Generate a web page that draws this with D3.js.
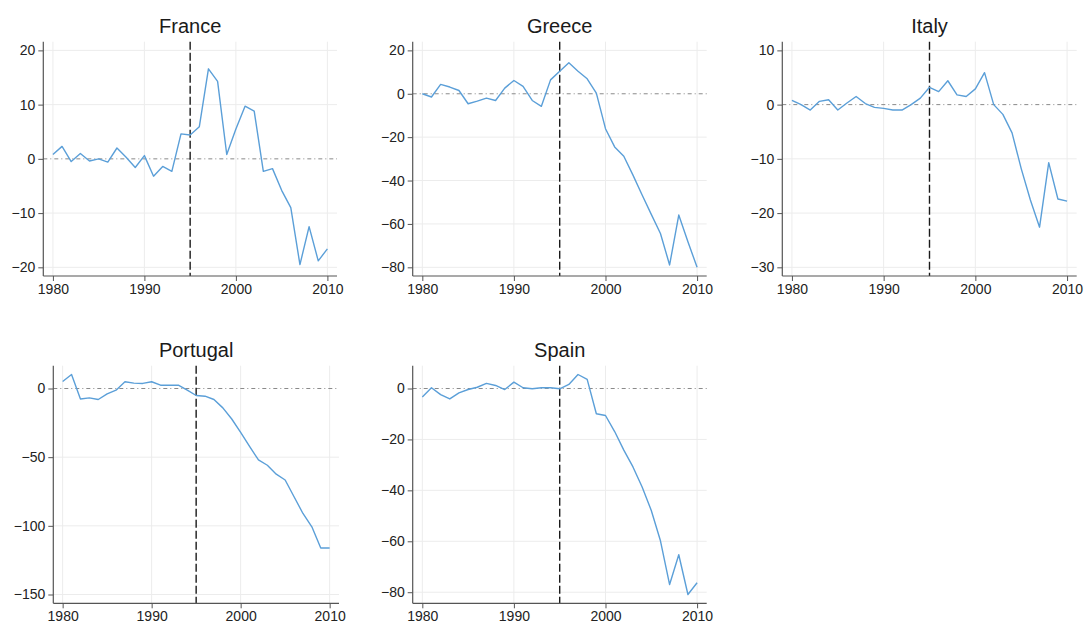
<!DOCTYPE html>
<html>
<head>
<meta charset="utf-8">
<script src="https://cdn.jsdelivr.net/npm/d3@7"></script>
<style>
  html, body { margin: 0; padding: 0; background: #ffffff; }
  svg { display: block; font-family: "Liberation Sans", Arial, sans-serif; }
</style>
</head>
<body>
<svg id="chart" width="1085" height="625"></svg>
<script>
// Years shared by every country panel
const years = d3.range(1980, 2011);
const xTicks = [1980, 1990, 2000, 2010];
const breakYear = 1995;

// Gap series, one per country
const france = [0.8, 2.3, -0.5, 1.0, -0.4, 0.0, -0.6, 2.0, 0.3, -1.6, 0.6, -3.2, -1.4, -2.3, 4.6, 4.4,
  5.9, 16.6, 14.3, 0.8, 5.5, 9.7, 8.8, -2.3, -1.8, -5.8, -9.0, -19.5, -12.5, -18.8, -16.6];
const greece = [0.0, -1.5, 4.3, 3.1, 1.5, -4.6, -3.4, -2.0, -3.1, 2.6, 6.1, 3.4, -3.1, -5.8, 6.4, 10.4,
  14.3, 10.4, 6.9, 0.3, -16.1, -24.5, -28.8, -37.5, -46.7, -55.6, -64.4, -78.9, -55.9, -68.2, -80.0];
const italy = [0.8, 0.0, -1.0, 0.6, 0.9, -1.0, 0.3, 1.5, 0.2, -0.5, -0.7, -1.0, -1.0, 0.0, 1.2, 3.2,
  2.4, 4.4, 1.8, 1.5, 2.9, 5.9, 0.0, -1.8, -5.2, -11.8, -17.6, -22.6, -10.7, -17.4, -17.8];
const portugal = [5.1, 10.2, -7.6, -6.8, -8.0, -3.9, -1.2, 4.9, 3.9, 3.7, 4.9, 2.4, 2.4, 2.4, -1.2, -5.1,
  -5.6, -8.0, -14.1, -22.2, -32.0, -42.2, -52.0, -55.9, -62.4, -66.6, -78.8, -91.0, -100.7, -116.1, -116.1];
const spain = [-3.3, 0.3, -2.4, -4.1, -1.7, -0.4, 0.5, 2.0, 1.2, -0.4, 2.5, 0.3, -0.1, 0.3, 0.3, -0.1,
  1.6, 5.5, 3.6, -9.9, -10.6, -16.9, -24.2, -30.8, -38.7, -47.9, -59.8, -77.0, -65.3, -80.9, -76.3];

// Y-axis tick labels per panel
const franceTicks = [-20, -10, 0, 10, 20];
const greeceTicks = [-80, -60, -40, -20, 0, 20];
const italyTicks = [-30, -20, -10, 0, 10];
const portugalTicks = [-150, -100, -50, 0];
const spainTicks = [-80, -60, -40, -20, 0];

const countries = ["France", "Greece", "Italy", "Portugal", "Spain"];
const seriesList = [france, greece, italy, portugal, spain];
const tickList = [franceTicks, greeceTicks, italyTicks, portugalTicks, spainTicks];

// Plot frames: left axis x, right end x, top y, bottom y
const frames = [
  { left: 43.3,  right: 337,    top: 41.7,  bottom: 276 },
  { left: 412.7, right: 706.7,  top: 41.7,  bottom: 276 },
  { left: 782.3, right: 1076.7, top: 41.7,  bottom: 276 },
  { left: 53.3,  right: 339,    top: 365.7, bottom: 603.3 },
  { left: 412.7, right: 706.7,  top: 365.7, bottom: 603.3 }
];

const lineColor = "#5b9fd8";
const axisColor = "#555555";
const textColor = "#222222";

const svg = d3.select("#chart");

countries.forEach((name, i) => {
  const values = seriesList[i];
  const ticks = tickList[i];
  const f = frames[i];

  // x domain padded around the year span
  const xPad = (2010 - 1980) * 0.035;
  const x = d3.scaleLinear().domain([1980 - xPad, 2010 + xPad]).range([f.left, f.right]);

  // y domain covers ticks and data, with a small margin
  const lo = Math.min(d3.min(ticks), d3.min(values));
  const hi = Math.max(d3.max(ticks), d3.max(values));
  const yPad = (hi - lo) * 0.04;
  const y = d3.scaleLinear().domain([lo - yPad, hi + yPad]).range([f.bottom, f.top]);

  const g = svg.append("g");

  // light grid
  g.selectAll(".hgrid").data(ticks.filter(t => t !== 0)).join("line")
    .attr("x1", f.left).attr("x2", f.right)
    .attr("y1", d => y(d)).attr("y2", d => y(d))
    .attr("stroke", "#ececec").attr("stroke-width", 1);
  g.selectAll(".vgrid").data(xTicks).join("line")
    .attr("x1", d => x(d)).attr("x2", d => x(d))
    .attr("y1", f.top).attr("y2", f.bottom)
    .attr("stroke", "#ececec").attr("stroke-width", 1);

  // zero reference line
  g.append("line")
    .attr("x1", f.left).attr("x2", f.right)
    .attr("y1", y(0)).attr("y2", y(0))
    .attr("stroke", "#8a8a8a").attr("stroke-width", 1)
    .attr("stroke-dasharray", "4,3,1,3");

  // break-year marker
  g.append("line")
    .attr("x1", x(breakYear)).attr("x2", x(breakYear))
    .attr("y1", f.top).attr("y2", f.bottom)
    .attr("stroke", "#1a1a1a").attr("stroke-width", 1.4)
    .attr("stroke-dasharray", "8,3");

  // series line
  const line = d3.line().x((d, k) => x(years[k])).y(d => y(d));
  g.append("path")
    .datum(values)
    .attr("d", line)
    .attr("fill", "none")
    .attr("stroke", lineColor)
    .attr("stroke-width", 1.4)
    .attr("stroke-linejoin", "round");

  // axes
  const yAxis = d3.axisLeft(y).tickValues(ticks).tickSize(5).tickPadding(3).tickFormat(d3.format("d"));
  const xAxis = d3.axisBottom(x).tickValues(xTicks).tickSize(5).tickPadding(3).tickFormat(d3.format("d"));

  const ya = g.append("g").attr("transform", `translate(${f.left},0)`).call(yAxis);
  const xa = g.append("g").attr("transform", `translate(0,${f.bottom})`).call(xAxis);

  [ya, xa].forEach(a => {
    a.select(".domain").remove();
    a.selectAll(".tick line").attr("stroke", axisColor);
    a.selectAll(".tick text")
      .attr("fill", textColor)
      .style("font-size", "14px")
      .style("font-family", "'Liberation Sans', Arial, sans-serif");
  });

  // axis lines without end caps
  g.append("line").attr("x1", f.left).attr("x2", f.left)
    .attr("y1", f.top).attr("y2", f.bottom)
    .attr("stroke", axisColor).attr("stroke-width", 1.2);
  g.append("line").attr("x1", f.left).attr("x2", f.right)
    .attr("y1", f.bottom).attr("y2", f.bottom)
    .attr("stroke", axisColor).attr("stroke-width", 1.2);

  // panel title
  g.append("text")
    .attr("x", (f.left + f.right) / 2)
    .attr("y", f.top - 9)
    .attr("text-anchor", "middle")
    .attr("fill", "#1a1a1a")
    .style("font-size", "20px")
    .text(name);
});
</script>
</body>
</html>
